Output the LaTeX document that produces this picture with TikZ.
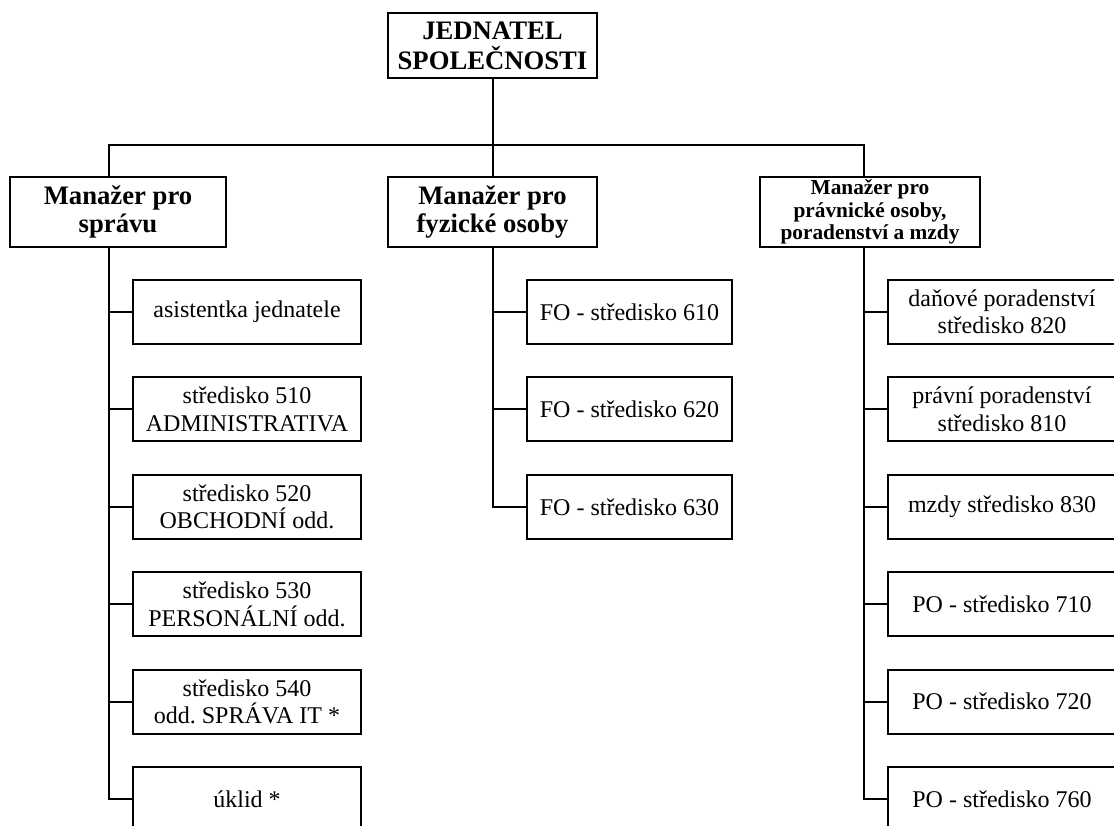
\documentclass[tikz,border=0pt]{standalone}
\usepackage{fontspec}
\setmainfont{Liberation Serif}
\frenchspacing

\begin{document}
\begin{tikzpicture}[
  x=0.75pt, y=-0.75pt,
  line width=1.5pt,
  headbox/.style={rectangle, draw, minimum width=156.75pt, minimum height=48.75pt, inner sep=0pt, align=center, font=\fontsize{20}{22.5}\selectfont\bfseries},
  mgrbox/.style={rectangle, draw, minimum height=52.5pt, inner sep=0pt, align=center, font=\fontsize{20}{21.5}\selectfont\bfseries},
  smallmgr/.style={mgrbox, font=\fontsize{16}{17}\selectfont\bfseries},
  unitbox/.style={rectangle, draw, minimum height=48pt, inner sep=0pt, align=center, font=\fontsize{18}{20.5}\selectfont},
  link/.style={draw}
]
  \useasboundingbox (0,0) rectangle (1114,825);

  % Head of company
  \node[headbox] (head) at (492.5,45.5) {JEDNATEL\\SPOLEČNOSTI};

  % Managers
  \node[mgrbox, minimum width=162pt] (mgrL) at (118,212) {Manažer pro\\správu};
  \node[mgrbox, minimum width=156.75pt] (mgrM) at (492.5,212) {Manažer pro\\fyzické osoby};
  \node[smallmgr, minimum width=165pt] (mgrR) at (870,212) {Manažer pro\\právnické osoby,\\poradenství a mzdy};

  % Bus and trunks
  \coordinate (busL) at (109,145);
  \coordinate (busR) at (864,145);
  \coordinate (tL) at (109,247);
  \coordinate (tM) at (493,247);
  \coordinate (tR) at (864,247);

  % Units under administration
  \node[unitbox, minimum width=171pt] (l1) at (247,312) {asistentka jednatele};
  \node[unitbox, minimum width=171pt] (l2) at (247,409.4) {středisko 510\\ADMINISTRATIVA};
  \node[unitbox, minimum width=171pt] (l3) at (247,506.8) {středisko 520\\OBCHODNÍ odd.};
  \node[unitbox, minimum width=171pt] (l4) at (247,604.2) {středisko 530\\PERSONÁLNÍ odd.};
  \node[unitbox, minimum width=171pt] (l5) at (247,701.6) {středisko 540\\odd. SPRÁVA IT *};
  \node[unitbox, minimum width=171pt] (l6) at (247,799) {úklid *};

  % Units of natural persons
  \node[unitbox, minimum width=153.75pt] (m1) at (629.5,312) {FO - středisko 610};
  \node[unitbox, minimum width=153.75pt] (m2) at (629.5,409.4) {FO - středisko 620};
  \node[unitbox, minimum width=153.75pt] (m3) at (629.5,506.8) {FO - středisko 630};

  % Units of legal persons
  \node[unitbox, minimum width=171pt] (r1) at (1002,312) {daňové poradenství\\středisko 820};
  \node[unitbox, minimum width=171pt] (r2) at (1002,409.4) {právní poradenství\\středisko 810};
  \node[unitbox, minimum width=171pt] (r3) at (1002,506.8) {mzdy středisko 830};
  \node[unitbox, minimum width=171pt] (r4) at (1002,604.2) {PO - středisko 710};
  \node[unitbox, minimum width=171pt] (r5) at (1002,701.6) {PO - středisko 720};
  \node[unitbox, minimum width=171pt] (r6) at (1002,799) {PO - středisko 760};

  % Head to managers
  \draw[link] (head.south) -- (mgrM.north);
  \draw[link] (tL |- mgrL.north) -- (busL) -- (busR) -- (tR |- mgrR.north);

  % Administration connections
  \draw[link] (tL) |- (l6.west);
  \draw[link] (tL |- l1.west) -- (l1.west);
  \draw[link] (tL |- l2.west) -- (l2.west);
  \draw[link] (tL |- l3.west) -- (l3.west);
  \draw[link] (tL |- l4.west) -- (l4.west);
  \draw[link] (tL |- l5.west) -- (l5.west);

  % Natural persons connections
  \draw[link] (tM) |- (m3.west);
  \draw[link] (tM |- m1.west) -- (m1.west);
  \draw[link] (tM |- m2.west) -- (m2.west);

  % Legal persons connections
  \draw[link] (tR) |- (r6.west);
  \draw[link] (tR |- r1.west) -- (r1.west);
  \draw[link] (tR |- r2.west) -- (r2.west);
  \draw[link] (tR |- r3.west) -- (r3.west);
  \draw[link] (tR |- r4.west) -- (r4.west);
  \draw[link] (tR |- r5.west) -- (r5.west);
\end{tikzpicture}
\end{document}
